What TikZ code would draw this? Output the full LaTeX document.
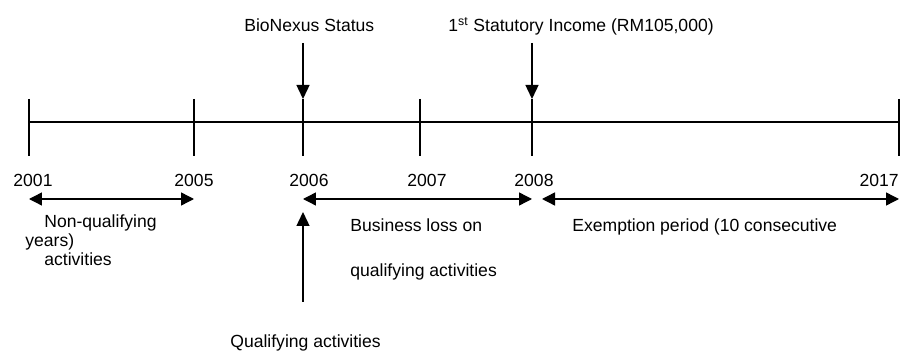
\documentclass[tikz,border=0pt]{standalone}
\usepackage{fontspec}
\setmainfont{Liberation Sans}
\usetikzlibrary{arrows.meta}

\begin{document}
\begin{tikzpicture}[
x=0.02cm,y=-0.02cm,
font=\fontsize{10}{12}\selectfont,
axis/.style={line width=0.7pt},
yeartick/.style={line width=0.8pt},
lbl/.style={inner sep=0pt, anchor=base west},
yr/.style={inner sep=0pt, anchor=base},
span/.style={{Triangle[length=0.26cm,width=0.26cm]}-{Triangle[length=0.26cm,width=0.26cm]}, line width=0.8pt},
pointer/.style={-{Triangle[length=0.28cm,width=0.26cm]}, line width=0.8pt}
]
\useasboundingbox (0,0) rectangle (900,351);
% time axis with year ticks
\coordinate (axisL) at (29,122);
\coordinate (axisR) at (899,122);
\draw[axis] (axisL) -- (axisR);
\foreach \x/\yr in {29/2001,194/2005,303/2006,420/2007,532/2008,899/2017} {
  \coordinate (top\yr) at (\x,99);
  \coordinate (bot\yr) at (\x,156);
  \draw[yeartick] (top\yr) -- (bot\yr);
}
\foreach \x/\yr in {33/2001,194/2005,309/2006,427/2007,534/2008} {\node[yr] (y\yr) at (\x,187) {\yr};}
\node[inner sep=0pt, anchor=base east] (y2017) at (899,187) {2017};
% events above the axis
\node[lbl] (bionexus) at (244,32) {BioNexus Status};
\node[lbl] (income) at (448,32) {1\textsuperscript{st} Statutory Income (RM105,000)};
\coordinate (bnsfrom) at (303,43);
\coordinate (incfrom) at (532,43);
\draw[pointer] (bnsfrom) -- (top2006);
\draw[pointer] (incfrom) -- (top2008);
% periods below the axis
\coordinate (nqL) at (29,199);
\coordinate (nqR) at (194,199);
\coordinate (blL) at (303,199);
\coordinate (blR) at (532,199);
\coordinate (exL) at (542,199);
\coordinate (exR) at (899,199);
\draw[span] (nqL) -- (nqR);
\draw[span] (blL) -- (blR);
\draw[span] (exL) -- (exR);
\node[lbl] (nq1) at (44,228) {Non-qualifying};
\node[lbl] (nq2) at (25,247) {years)};
\node[lbl] (nq3) at (44,266) {activities};
\node[lbl] (bl1) at (350,232) {Business loss on};
\node[lbl] (bl2) at (350,277) {qualifying activities};
\node[lbl] (ex1) at (572,232) {Exemption period (10 consecutive};
% qualifying activities start
\coordinate (qfrom) at (303,302);
\coordinate (qto) at (303,212);
\draw[pointer] (qfrom) -- (qto);
\node[lbl] (qual) at (230,348) {Qualifying activities};
\end{tikzpicture}
\end{document}
